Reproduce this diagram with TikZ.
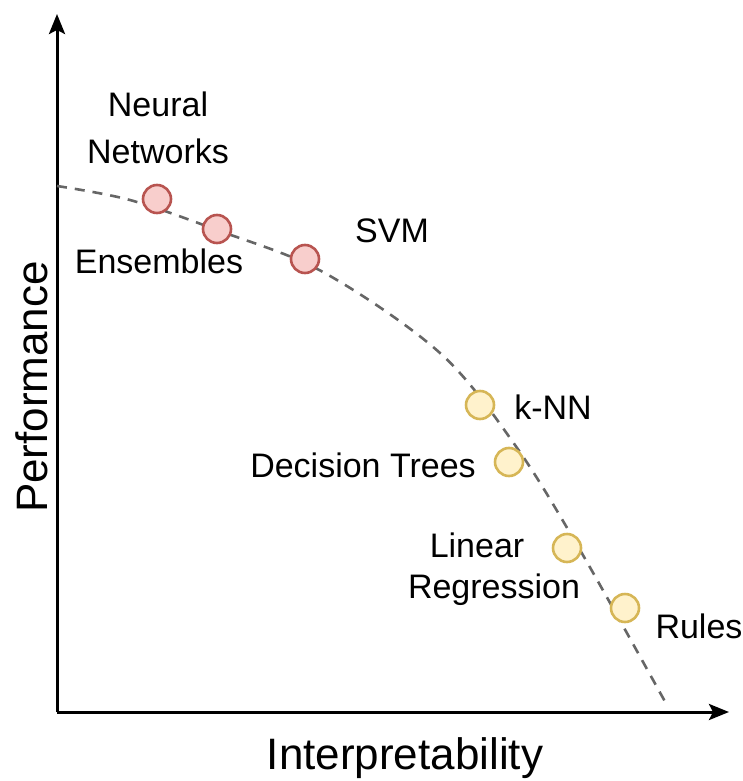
\documentclass[tikz,border=0pt]{standalone}
\usepackage{fontspec}
\setmainfont{Liberation Sans}
\usetikzlibrary{arrows.meta, positioning}

\definecolor{redline}{HTML}{B85450}
\definecolor{redfill}{HTML}{F8CECC}
\definecolor{yelline}{HTML}{D6B656}
\definecolor{yelfill}{HTML}{FFF2CC}
\definecolor{curvegray}{HTML}{666666}

\tikzset{
  axis/.style={line width=3pt, -{Stealth[length=20pt,width=16pt,inset=4pt]}},
  front/.style={draw=curvegray, line width=2.6pt, dash pattern=on 10pt off 8pt},
  dark/.style={circle, minimum size=28pt, inner sep=0pt, line width=2.6pt,
    draw=redline, fill=redfill},
  light/.style={circle, minimum size=28pt, inner sep=0pt, line width=2.6pt,
    draw=yelline, fill=yelfill},
  lbl/.style={font=\fontsize{34}{47}\selectfont, align=center, inner sep=0pt},
  axlbl/.style={font=\fontsize{44}{50}\selectfont, inner sep=0pt}
}

\begin{document}
\begin{tikzpicture}[x=1pt, y=-1pt]
\useasboundingbox (0,0) rectangle (743,781);
\coordinate (o) at (57,712);
\coordinate (ytop) at (57,14);
\coordinate (xend) at (729,712);
\draw[axis] (o) -- (ytop);
\draw[axis] (o) -- (xend);

% the trade-off curve
\draw[front] plot[smooth, tension=0.55] coordinates
  {(57,186) (130,200) (217,230) (323,272) (440,353) (515,445)
   (580,550) (668,707)};

\node[dark] (nn) at (157,199) {};
\node[dark] (ens) at (217,229) {};
\node[dark] (svm) at (305,259) {};
\node[light] (knn) at (480,405) {};
\node[light] (dt) at (509,462) {};
\node[light] (lr) at (567,548) {};
\node[light] (rules) at (625,608) {};

\node[lbl] at (158,128) {Neural\\Networks};
\node[lbl] at (159,261) {Ensembles};
\node[lbl] at (392,231) {SVM};
\node[lbl] at (553,407) {k-NN};
\node[lbl] at (363,465) {Decision Trees};
\node[lbl] at (477,545) {Linear};
\node[lbl] at (494,590) {Regression};
\node[lbl] at (699,626) {Rules};

\node[axlbl, rotate=90] at (32,387) {Performance};
\node[axlbl] at (405,758) {Interpretability};
\end{tikzpicture}
\end{document}
